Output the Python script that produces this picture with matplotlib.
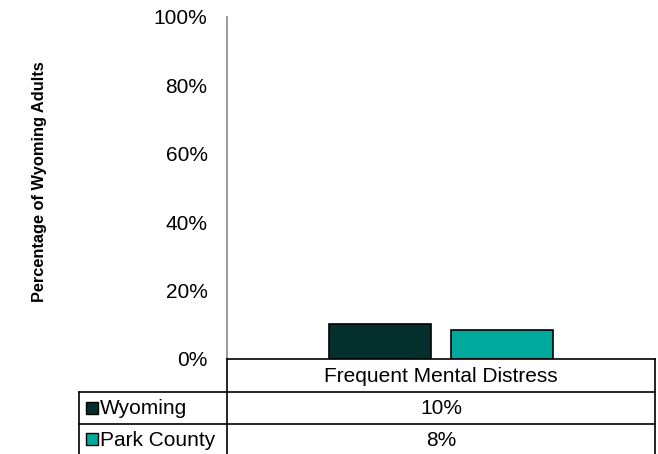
import matplotlib.pyplot as plt
from matplotlib.lines import Line2D
from matplotlib.patches import Rectangle

# data
category = 'Frequent Mental Distress'
series = ['Wyoming', 'Park County']
values = [10.2, 8.4]
colors = ['#03302C', '#00A99D']
yticks = [0, 20, 40, 60, 80, 100]

plt.rcParams['font.family'] = ['Liberation Sans', 'DejaVu Sans']

W, H = 658, 454
fig = plt.figure(figsize=(W / 100, H / 100), dpi=100)

def fx(px):
    return px / W

def fy(py):
    return 1 - py / H

ax = fig.add_axes([fx(227), fy(359), fx(655) - fx(227), fy(17) - fy(359)])

FS = 15

# bars
width = 0.24
offsets = [-0.1425, 0.1425]
for v, c, o in zip(values, colors, offsets):
    ax.bar(o, v, width=width, color=c, edgecolor='black', linewidth=1.2, zorder=3)

ax.set_xlim(-0.5, 0.5)
ax.set_ylim(0, 100)
ax.set_yticks(yticks)
ax.set_yticklabels([f'{t}%' for t in yticks], fontsize=FS)
ax.tick_params(axis='y', length=0, pad=14)
ax.set_xticks([])
for s in ['top', 'right', 'bottom']:
    ax.spines[s].set_visible(False)
ax.spines['left'].set_color('#888888')
ax.spines['left'].set_linewidth(1.2)

fig.text(fx(40), fy(182), 'Percentage of Wyoming Adults', rotation=90,
         ha='center', va='center', fontsize=11.8, fontweight='bold')

# data table below the axis
def hline(x0, x1, y):
    fig.add_artist(Line2D([fx(x0), fx(x1)], [fy(y), fy(y)], color='black', lw=1.2))

def vline(x, y0, y1):
    fig.add_artist(Line2D([fx(x), fx(x)], [fy(y0), fy(y1)], color='black', lw=1.2))

hline(227, 655, 359)
hline(79, 655, 392)
hline(79, 655, 424)
vline(79, 392, 454)
vline(227, 359, 454)
vline(655, 359, 454)

fig.text(fx(441), fy(377), category, ha='center', va='center', fontsize=FS)
row_mid = [409, 440]
for name, v, c, ym in zip(series, values, colors, row_mid):
    fig.add_artist(Rectangle((fx(86), fy(ym + 5)), fx(12), 12 / H,
                             facecolor=c, edgecolor='black', lw=1.0))
    fig.text(fx(100), fy(ym), name, ha='left', va='center', fontsize=FS)
    fig.text(fx(441), fy(ym), f'{round(v)}%', ha='center', va='center', fontsize=FS)

fig.savefig('out.png', dpi=100)
